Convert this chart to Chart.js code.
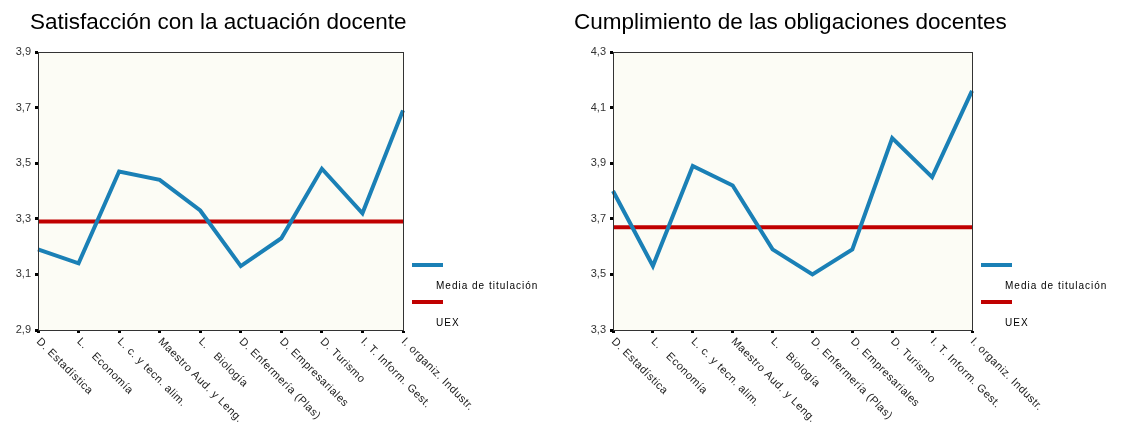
<html lang="es">
  <head>
    <meta charset="utf-8" />
    <title>Satisfacción y cumplimiento docente</title>
    <script src="https://cdn.jsdelivr.net/npm/chart.js@4.4.1/dist/chart.umd.min.js"></script>
    <style>
      html,
      body {
        margin: 0;
        padding: 0;
        background: #ffffff;
        width: 1121px;
        height: 439px;
        overflow: hidden;
      }
      canvas {
        position: absolute;
        top: 0;
      }
      #chartLeft {
        left: 0;
      }
      #chartRight {
        left: 560px;
      }
    </style>
  </head>
  <body>
    <canvas id="chartLeft" width="560" height="439"></canvas>
    <canvas id="chartRight" width="561" height="439"></canvas>

    <script>
      const titulaciones = [
        "D. Estadística",
        "L.   Economía",
        "L. c. y tecn. alim.",
        "Maestro Aud. y Leng.",
        "L.   Biología",
        "D. Enfermería (Plas)",
        "D. Empresariales",
        "D. Turismo",
        "I. T. Inform. Gest.",
        "I. organiz. Industr."
      ];

      // Satisfacción con la actuación docente
      const satisfaccionMedia = [3.19, 3.14, 3.47, 3.44, 3.33, 3.13, 3.23, 3.48, 3.32, 3.69];
      const satisfaccionUEX = [3.29, 3.29, 3.29, 3.29, 3.29, 3.29, 3.29, 3.29, 3.29, 3.29];

      // Cumplimiento de las obligaciones docentes
      const cumplimientoMedia = [3.80, 3.53, 3.89, 3.82, 3.59, 3.50, 3.59, 3.99, 3.85, 4.16];
      const cumplimientoUEX = [3.67, 3.67, 3.67, 3.67, 3.67, 3.67, 3.67, 3.67, 3.67, 3.67];

      const legendNames = ["Media de titulación", "UEX"];
      const legendNamesRight = ["Media de titulación", "UEX"];

      const BLUE = "#1a80b6";
      const RED = "#c00000";

      // fondo, marco, título, etiquetas giradas y leyenda
      const decorPlugin = {
        id: "decor",
        beforeDraw(chart) {
          const a = chart.chartArea;
          const ctx = chart.ctx;
          ctx.save();
          ctx.fillStyle = "#fcfcf5";
          ctx.fillRect(a.left, a.top, a.right - a.left, a.bottom - a.top);
          ctx.restore();
        },
        afterDraw(chart, args, opts) {
          const a = chart.chartArea;
          const ctx = chart.ctx;
          const xScale = chart.scales.x;
          ctx.save();

          // marco
          ctx.strokeStyle = "#333";
          ctx.lineWidth = 1;
          ctx.strokeRect(a.left + 0.5, a.top + 0.5, a.right - a.left, a.bottom - a.top);

          // título
          ctx.fillStyle = "#000";
          ctx.font = "22.5px Arial, 'Liberation Sans', sans-serif";
          ctx.textAlign = "left";
          ctx.textBaseline = "middle";
          ctx.fillText(opts.title, opts.titleX, 23);

          // etiquetas del eje x
          ctx.font = "11px Arial, 'Liberation Sans', sans-serif";
          ctx.fillStyle = "#222";
          ctx.letterSpacing = "0.5px";
          chart.data.labels.forEach((lab, i) => {
            const x = xScale.getPixelForValue(i);
            ctx.save();
            ctx.translate(x + 4, a.bottom + 6);
            ctx.rotate(Math.PI / 4);
            ctx.textBaseline = "top";
            ctx.fillText(lab, 0, 0);
            ctx.restore();
          });

          // leyenda
          ctx.font = "10px Arial, 'Liberation Sans', sans-serif";
          ctx.letterSpacing = "1px";
          ctx.textBaseline = "middle";
          const lx = a.right + 9;
          const items = chart.data.datasets;
          items.forEach((ds, i) => {
            const y = 265 + i * 37;
            ctx.strokeStyle = ds.borderColor;
            ctx.lineWidth = 4;
            ctx.beginPath();
            ctx.moveTo(lx, y);
            ctx.lineTo(lx + 31, y);
            ctx.stroke();
            ctx.fillStyle = "#000";
            ctx.fillText(ds.label, lx + 24, y + 21);
          });
          ctx.restore();
        }
      };

      function makeChart(canvasId, media, uex, names, cfg) {
        return new Chart(document.getElementById(canvasId), {
          type: "line",
          data: {
            labels: titulaciones,
            datasets: [
              {
                label: names[0],
                data: media,
                borderColor: BLUE,
                borderWidth: 4,
                pointRadius: 0,
                tension: 0
              },
              {
                label: names[1],
                data: uex,
                borderColor: RED,
                borderWidth: 4,
                pointRadius: 0,
                tension: 0
              }
            ]
          },
          options: {
            responsive: false,
            animation: false,
            events: [],
            layout: {
              padding: { left: 0, top: 52, right: cfg.padRight, bottom: 0 }
            },
            scales: {
              x: {
                type: "category",
                offset: false,
                afterFit(scale) {
                  scale.height = 109;
                },
                grid: {
                  drawOnChartArea: false,
                  color: "#000",
                  tickColor: "#000",
                  tickLength: 3,
                  tickWidth: 3
                },
                border: { display: true, color: "#333", width: 1 },
                ticks: { display: false }
              },
              y: {
                min: cfg.min,
                max: cfg.max,
                afterFit(scale) {
                  scale.width = cfg.axisWidth;
                },
                afterBuildTicks(scale) {
                  scale.ticks = cfg.ticks.map((v) => ({ value: v }));
                },
                grid: {
                  drawOnChartArea: false,
                  color: "#000",
                  tickColor: "#000",
                  tickLength: 3,
                  tickWidth: 3
                },
                border: { display: true, color: "#333", width: 1 },
                ticks: {
                  padding: 4,
                  color: "#333",
                  font: { family: "Arial, 'Liberation Sans', sans-serif", size: 11 },
                  callback: (v) => Number(v).toFixed(1).replace(".", ",")
                }
              }
            },
            plugins: {
              legend: { display: false },
              tooltip: { enabled: false },
              decor: { title: cfg.title, titleX: cfg.titleX }
            }
          },
          plugins: [decorPlugin]
        });
      }

      const yTicksLeft = [2.9, 3.1, 3.3, 3.5, 3.7, 3.9];
      const yTicksRight = [3.3, 3.5, 3.7, 3.9, 4.1, 4.3];

      makeChart("chartLeft", satisfaccionMedia, satisfaccionUEX, legendNames, {
        title: "Satisfacción con la actuación docente",
        titleX: 30,
        min: 2.9,
        max: 3.9,
        ticks: yTicksLeft,
        axisWidth: 38,
        padRight: 157
      });

      makeChart("chartRight", cumplimientoMedia, cumplimientoUEX, legendNamesRight, {
        title: "Cumplimiento de las obligaciones docentes",
        titleX: 14,
        min: 3.3,
        max: 4.3,
        ticks: yTicksRight,
        axisWidth: 53,
        padRight: 149
      });
    </script>
  </body>
</html>
